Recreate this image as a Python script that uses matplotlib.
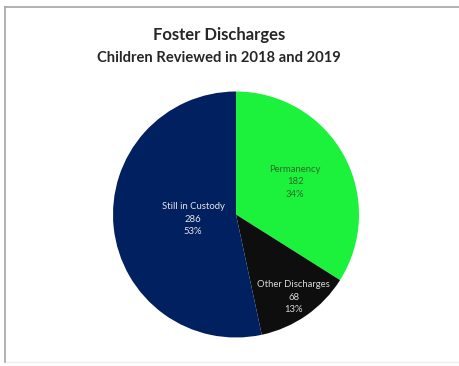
import matplotlib
matplotlib.use('Agg')
import matplotlib.pyplot as plt
from matplotlib.lines import Line2D
import numpy as np

categories = ['Permanency', 'Other Discharges', 'Still in Custody']
counts = [182, 68, 286]
percents = ['34%', '13%', '53%']

colors = ['#1CF23C', '#0E0E0E', '#002060']
text_colors = ['#2E6B2E', '#D9D9D9', '#E6E6E6']
label_dist = [0.55, 0.82, 0.35]

plt.rcParams['font.family'] = ['Lato', 'DejaVu Sans']

fig = plt.figure(figsize=(4.6, 3.66), dpi=100)
W, H = 460, 366

# pie centred at (236, 214) px with radius 123 px
cx, cy, r = 236, 214.5, 123
ax = fig.add_axes([(cx - r) / W, (H - cy - r) / H, 2 * r / W, 2 * r / H])
wedges, _ = ax.pie(counts, colors=colors, startangle=90, counterclock=False,
                   radius=1, wedgeprops=dict(linewidth=0))
ax.set_xlim(-1, 1)
ax.set_ylim(-1, 1)
ax.set_aspect('equal')
ax.axis('off')

for w, name, n, p, tc, d in zip(wedges, categories, counts, percents, text_colors, label_dist):
    ang = np.deg2rad((w.theta1 + w.theta2) / 2)
    ax.text(d * np.cos(ang), d * np.sin(ang), f'{name}\n{n}\n{p}', ha='center', va='center',
            fontsize=6.8, color=tc, linespacing=1.5)

fig.text(219 / W, 1 - 35 / H, 'Foster Discharges', ha='center', va='center',
         fontsize=12, fontweight='bold', color='#262626')
fig.text(219 / W, 1 - 58 / H, 'Children Reviewed in 2018 and 2019', ha='center', va='center',
         fontsize=10.6, fontweight='bold', color='#262626')

# frame lines
fig.add_artist(Line2D([5 / W, 5 / W], [1 - 7 / H, 1 - 362 / H], color='#A6A6A6', lw=1.2,
                      transform=fig.transFigure))
fig.add_artist(Line2D([5 / W, 1], [1 - 7 / H, 1 - 7 / H], color='#A6A6A6', lw=1.2,
                      transform=fig.transFigure))
fig.add_artist(Line2D([6 / W, 1], [1 - 362 / H, 1 - 362 / H], color='#EEEEEE', lw=1,
                      transform=fig.transFigure))

fig.savefig('out.png', dpi=100)
